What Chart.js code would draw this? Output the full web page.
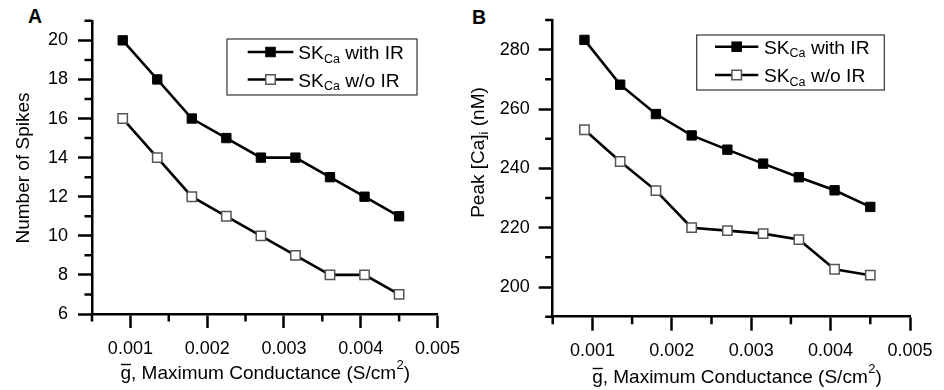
<!DOCTYPE html>
<html><head><meta charset="utf-8">
<script src="https://cdn.jsdelivr.net/npm/chart.js@4.4.1/dist/chart.umd.min.js"></script>
<style>
html,body{margin:0;padding:0;background:#fff}
body{width:944px;height:390px;position:relative;overflow:hidden;font-family:"Liberation Sans",Arial,sans-serif}
.wrap{position:absolute;top:0;height:390px}
#wa{left:0;width:470px}
#wb{left:460px;width:484px}
.lab{position:absolute;font-weight:bold;font-size:19.5px;line-height:1;color:#000}
</style></head>
<body>
<div class="lab" style="left:28px;top:7px">A</div>
<div class="lab" style="left:472px;top:8px">B</div>
<div class="wrap" id="wa"><canvas id="ca"></canvas></div>
<div class="wrap" id="wb"><canvas id="cb"></canvas></div>
<script>
// ---------- data ----------
const conductance = [0.0009, 0.00135, 0.0018, 0.00225, 0.0027, 0.00315, 0.0036, 0.00405, 0.0045];
const spikesWithIR = [20, 18, 16, 15, 14, 14, 13, 12, 11];
const spikesWithoutIR = [16, 14, 12, 11, 10, 9, 8, 8, 7];
const peakCaWithIR = [283.3, 268.2, 258.3, 251.1, 246.3, 241.6, 237, 232.6, 227];
const peakCaWithoutIR = [253, 242.3, 232.5, 220, 219, 218, 216, 206, 204];
const xMajorTicks = [0.001, 0.002, 0.003, 0.004, 0.005];
const xMinorTicks = [0.0005, 0.0015, 0.0025, 0.0035, 0.0045];
const spikesMajorTicks = [6, 8, 10, 12, 14, 16, 18, 20];
const spikesMinorTicks = [7, 9, 11, 13, 15, 17, 19, 21];
const caMajorTicks = [200, 220, 240, 260, 280];
const caMinorTicks = [190, 210, 230, 250, 270, 290];
const seriesMain = ['SK', 'SK'];
const seriesSub = ['Ca', 'Ca'];
const seriesRest = [' with IR', ' w/o IR'];
const xTitleParts = ['g', ', Maximum Conductance (S/cm', '2', ')'];
const yTitleA = ['Number of Spikes', '', ''];
const yTitleB = ['Peak [Ca]', 'i', ' (nM)'];

const FAM = '"Liberation Sans", Arial, sans-serif';
const F = (s) => s + 'px ' + FAM;

function toPts(ys) { return conductance.map((x, i) => ({x: x, y: ys[i]})); }

function drawXTitle(ctx, cx, by) {
  const big = 19, small = 13;
  ctx.font = F(big);
  const wg = ctx.measureText(xTitleParts[0]).width;
  const w1 = ctx.measureText(xTitleParts[1]).width;
  const w3 = ctx.measureText(xTitleParts[3]).width;
  ctx.font = F(small);
  const w2 = ctx.measureText(xTitleParts[2]).width;
  let x = cx - (wg + w1 + w2 + w3) / 2;
  ctx.textAlign = 'left'; ctx.textBaseline = 'alphabetic'; ctx.fillStyle = '#000';
  ctx.font = F(big);
  ctx.fillText(xTitleParts[0], x, by);
  ctx.fillRect(x + 0.5, by - 15.5, wg - 0.5, 1.4);
  x += wg;
  ctx.fillText(xTitleParts[1], x, by); x += w1;
  ctx.font = F(small);
  ctx.fillText(xTitleParts[2], x + 0.5, by - 10.5); x += w2 + 0.5;
  ctx.font = F(big);
  ctx.fillText(xTitleParts[3], x, by);
}

function drawYTitle(ctx, parts, bx, cy) {
  const big = 19, small = 13;
  ctx.save();
  ctx.translate(bx, cy);
  ctx.rotate(-Math.PI / 2);
  ctx.font = F(big);
  const w0 = ctx.measureText(parts[0]).width;
  const w2 = ctx.measureText(parts[2]).width;
  ctx.font = F(small);
  const w1 = ctx.measureText(parts[1]).width;
  let x = -(w0 + w1 + w2) / 2;
  ctx.textAlign = 'left'; ctx.textBaseline = 'alphabetic'; ctx.fillStyle = '#000';
  ctx.font = F(big); ctx.fillText(parts[0], x, 0); x += w0;
  ctx.font = F(small); ctx.fillText(parts[1], x, 4); x += w1;
  ctx.font = F(big); ctx.fillText(parts[2], x, 0);
  ctx.restore();
}

function drawLegend(chart, lg) {
  const ctx = chart.ctx;
  ctx.save();
  ctx.strokeStyle = '#333'; ctx.lineWidth = 1.2;
  ctx.strokeRect(lg.x, lg.y, lg.w, lg.h);
  chart.data.datasets.forEach((ds, i) => {
    const y = lg.y + lg.rows[i];
    ctx.strokeStyle = '#000'; ctx.lineWidth = 2.5;
    ctx.beginPath(); ctx.moveTo(lg.x + lg.l0, y); ctx.lineTo(lg.x + lg.l1, y); ctx.stroke();
    const mx = lg.x + (lg.l0 + lg.l1) / 2;
    const s = ds.legendBox;
    ctx.fillStyle = ds.pointBackgroundColor;
    ctx.fillRect(mx - s / 2, y - s / 2, s, s);
    ctx.strokeStyle = ds.pointBorderColor; ctx.lineWidth = ds.pointBorderWidth;
    ctx.strokeRect(mx - s / 2, y - s / 2, s, s);
    ctx.fillStyle = '#000'; ctx.textAlign = 'left'; ctx.textBaseline = 'alphabetic';
    let x = lg.x + lg.t0;
    const by = y + 7;
    ctx.font = F(19.2); ctx.fillText(seriesMain[i], x, by); x += ctx.measureText(seriesMain[i]).width;
    ctx.font = F(12.5); ctx.fillText(seriesSub[i], x, by + 3.5); x += ctx.measureText(seriesSub[i]).width;
    ctx.font = F(19.2); ctx.fillText(seriesRest[i], x, by);
  });
  ctx.restore();
}

const decor = {
  id: 'decor',
  afterDraw(chart, args, o) {
    const ctx = chart.ctx, ca = chart.chartArea, xs = chart.scales.x, ys = chart.scales.y;
    ctx.save();
    ctx.strokeStyle = '#000'; ctx.lineWidth = 2.5; ctx.lineCap = 'butt';
    ctx.beginPath();
    o.xMinor.forEach(v => { const p = xs.getPixelForValue(v); ctx.moveTo(p, ca.bottom); ctx.lineTo(p, ca.bottom + 7.5); });
    o.yMinor.forEach(v => { const p = ys.getPixelForValue(v); ctx.moveTo(ca.left, p); ctx.lineTo(ca.left - 7.5, p); });
    ctx.stroke();
    drawXTitle(ctx, o.xTitleCx, ca.bottom + o.xTitleDy);
    drawYTitle(ctx, o.yTitle, ca.left - o.yTitleDx, o.yTitleCy);
    ctx.restore();
    drawLegend(chart, o.legend);
  }
};

function makeChart(id, cfg) {
  const common = {
    borderColor: '#000', borderWidth: 2.6, pointStyle: 'rect', tension: 0,
    pointBorderColor: '#000', clip: false
  };
  return new Chart(document.getElementById(id), {
    type: 'line',
    data: {
      datasets: [
        Object.assign({}, common, {
          label: seriesMain[0] + seriesSub[0] + seriesRest[0],
          data: toPts(cfg.s1),
          pointBackgroundColor: '#000', pointBorderWidth: 1, pointRadius: 6.6, legendBox: 9.5
        }),
        Object.assign({}, common, {
          label: seriesMain[1] + seriesSub[1] + seriesRest[1],
          data: toPts(cfg.s2),
          pointBackgroundColor: '#fff', pointBorderColor: '#555', pointBorderWidth: 1.5, pointRadius: 6.6, legendBox: 9.5
        })
      ]
    },
    options: {
      responsive: true, maintainAspectRatio: false, animation: false,
      layout: { padding: { top: cfg.top, right: cfg.right, left: 0, bottom: 0 } },
      plugins: {
        legend: { display: false }, tooltip: { enabled: false },
        decor: cfg.decor
      },
      scales: {
        x: {
          type: 'linear', min: 0.0005, max: 0.005,
          afterBuildTicks: s => { s.ticks = xMajorTicks.map(v => ({value: v})); },
          afterFit: s => { s.height = cfg.xh; },
          border: { color: '#000', width: 2.5 },
          grid: { drawOnChartArea: false, tickLength: 14, tickWidth: 2.5, tickColor: '#000', color: '#000' },
          ticks: { color: '#000', font: { family: FAM, size: 18 }, padding: 10, maxRotation: 0,
                   callback: v => v.toFixed(3) }
        },
        y: {
          type: 'linear', min: cfg.ymin, max: cfg.ymax,
          afterBuildTicks: s => { s.ticks = cfg.yMajor.map(v => ({value: v})); },
          afterFit: s => { s.width = cfg.yw; },
          border: { color: '#000', width: 2.5 },
          grid: { drawOnChartArea: false, tickLength: 14, tickWidth: 2.5, tickColor: '#000', color: '#000' },
          ticks: { color: '#000', font: { family: FAM, size: 18 }, padding: cfg.ypad }
        }
      }
    },
    plugins: [decor]
  });
}

makeChart('ca', {
  s1: spikesWithIR, s2: spikesWithoutIR, ymin: 6, ymax: 21, yMajor: spikesMajorTicks,
  top: 17, right: 23, xh: 76, yw: 92, ypad: 10,
  decor: { xMinor: xMinorTicks, yMinor: spikesMinorTicks, xTitleCx: 265, xTitleDy: 65.3, yTitle: yTitleA, yTitleDx: 63.5, yTitleCy: 168,
           legend: { x: 227, y: 39, w: 190, h: 56, rows: [13, 40.5], l0: 20.7, l1: 66.3, t0: 71.3 } }
});
makeChart('cb', {
  s1: peakCaWithIR, s2: peakCaWithoutIR, ymin: 190, ymax: 290, yMajor: caMajorTicks,
  top: 20, right: 34, xh: 73.3, yw: 92.7, ypad: 9,
  decor: { xMinor: xMinorTicks, yMinor: caMinorTicks, xTitleCx: 736.7 - 460, xTitleDy: 66.6, yTitle: yTitleB, yTitleDx: 69, yTitleCy: 152.5,
           legend: { x: 236.7, y: 35, w: 187.6, h: 55, rows: [11.7, 40], l0: 18.3, l1: 61.6, t0: 67.3 } }
});
</script>
</body></html>
